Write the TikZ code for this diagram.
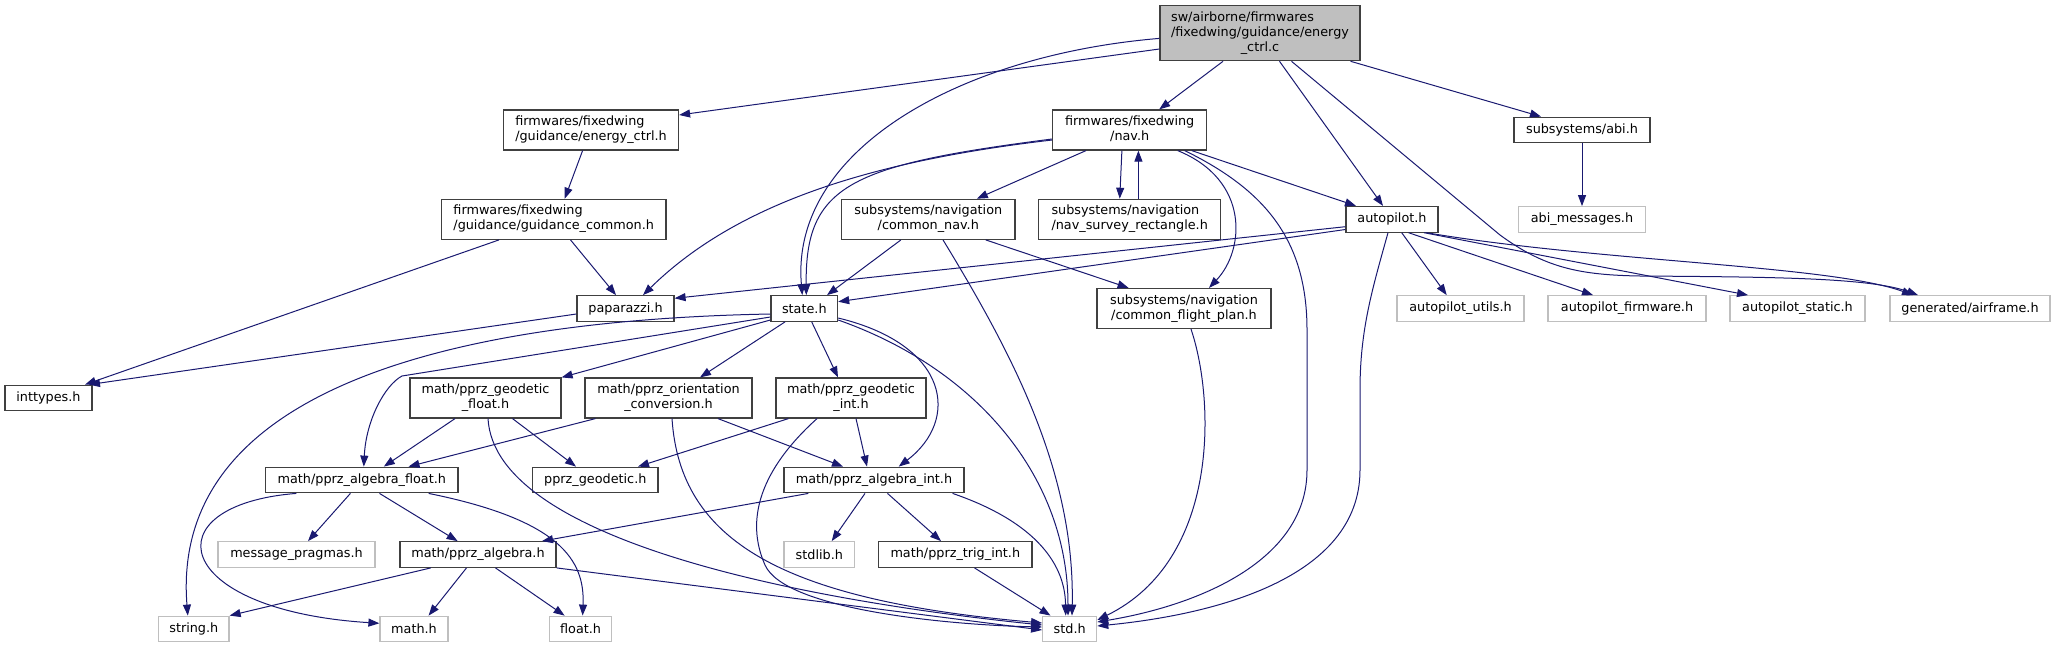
\documentclass[tikz,border=0pt]{standalone}
\usepackage{fontspec}
\setmainfont{DejaVu Sans}
\usetikzlibrary{arrows.meta}

\definecolor{edgeblue}{HTML}{191970}
\definecolor{boxgray}{HTML}{404040}
\definecolor{extgray}{HTML}{BFBFBF}

% two-line doxygen label: first line left, last line centred
\newcommand{\pathlbl}[2]{\begin{tabular}{@{}l@{}}#1\\\multicolumn{1}{@{}c@{}}{#2}\end{tabular}}

\begin{document}
\begin{tikzpicture}[
      x=0.5pt, y=-0.5pt,
      hdr/.style={
        rectangle, draw=boxgray, line width=0.6pt, fill=white,
        font=\fontsize{6.4}{7.5}\selectfont,
        inner xsep=2pt, inner ysep=1pt, minimum height=12.8pt
      },
      ext/.style={hdr, draw=extgray},
      two/.style={minimum height=20pt},
      inc/.style={
        -{Triangle[length=5.5pt,width=4pt]}, line width=0.5pt, draw=edgeblue
      }
    ]
    \useasboundingbox (0,0) rectangle (2055,648);

    % --- Source file ---
    \node[hdr, fill=extgray, minimum width=100pt, minimum height=27.5pt] (ec) at (1260,33.2)
      {\begin{tabular}{@{}l@{}}sw/airborne/firmwares\\/fixedwing/guidance/energy\\\multicolumn{1}{@{}c@{}}{\_ctrl.c}\end{tabular}};

    % --- Row 1 ---
    \node[hdr, two, minimum width=87.5pt] (ech) at (591,130)    {\pathlbl{firmwares/fixedwing}{/guidance/energy\_ctrl.h}};
    \node[hdr, two, minimum width=77pt]   (nav) at (1129.7,130) {\pathlbl{firmwares/fixedwing}{/nav.h}};
    \node[hdr, minimum width=68pt]        (abi) at (1582,130)   {subsystems/abi.h};

    % --- Row 2 ---
    \node[hdr, two, minimum width=112.25pt] (gc)     at (553.7,219.3)  {\pathlbl{firmwares/fixedwing}{/guidance/guidance\_common.h}};
    \node[hdr, two, minimum width=86.75pt]  (cnav)   at (928.3,219.3)  {\pathlbl{subsystems/navigation}{/common\_nav.h}};
    \node[hdr, two, minimum width=90.85pt]  (survey) at (1129.7,219.3) {\pathlbl{subsystems/navigation}{/nav\_survey\_rectangle.h}};
    \node[hdr, minimum width=46pt]          (ap)     at (1392,219.3)   {autopilot.h};
    \node[ext, minimum width=63.2pt]        (abimsg) at (1582,219.5)   {abi\_messages.h};

    % --- Row 3 ---
    \node[hdr, minimum width=48.5pt]   (papa)     at (625.5,308.5)  {paparazzi.h};
    \node[hdr, minimum width=33.3pt]   (state)    at (804.3,308.5)  {state.h};
    \node[hdr, two, minimum width=87pt] (cfp)     at (1184,308.5)   {\pathlbl{subsystems/navigation}{/common\_flight\_plan.h}};
    \node[ext, minimum width=63.5pt]   (aputils)  at (1460.5,308.5) {autopilot\_utils.h};
    \node[ext, minimum width=79pt]     (apfw)     at (1627,308.5)   {autopilot\_firmware.h};
    \node[ext, minimum width=67.5pt]   (apstatic) at (1797.5,308.5) {autopilot\_static.h};
    \node[ext, minimum width=80pt]     (airframe) at (1970,308.5)   {generated/airframe.h};

    % --- Row 4 ---
    \node[hdr, minimum width=43.5pt]      (inttypes) at (48.5,398)  {inttypes.h};
    \node[hdr, two, minimum width=75.5pt] (geofloat) at (485.5,398) {\pathlbl{math/pprz\_geodetic}{\_float.h}};
    \node[hdr, two, minimum width=83.5pt] (orient)   at (668.5,398) {\pathlbl{math/pprz\_orientation}{\_conversion.h}};
    \node[hdr, two, minimum width=75pt]   (geoint)   at (851,398)   {\pathlbl{math/pprz\_geodetic}{\_int.h}};

    % --- Row 5 ---
    \node[hdr, minimum width=96.2pt] (algfloat) at (361.8,480) {math/pprz\_algebra\_float.h};
    \node[hdr, minimum width=62.7pt] (geodetic) at (595.3,480) {pprz\_geodetic.h};
    \node[hdr, minimum width=90pt]   (algint)   at (874,480)   {math/pprz\_algebra\_int.h};

    % --- Row 6 ---
    \node[ext, minimum width=78.5pt]  (msgpr)  at (296.5,554.5) {message\_pragmas.h};
    \node[hdr, minimum width=78pt]    (alg)    at (478,554.5)   {math/pprz\_algebra.h};
    \node[ext, minimum width=35.25pt] (stdlib) at (819.3,554.5) {stdlib.h};
    \node[hdr, minimum width=76.7pt]  (trig)   at (955.3,554.5) {math/pprz\_trig\_int.h};

    % --- Row 7 ---
    \node[ext, minimum width=35.25pt] (string) at (193.8,629)  {string.h};
    \node[ext, minimum width=34pt]    (math)   at (414,629)    {math.h};
    \node[ext, minimum width=31pt]    (float)  at (580.6,629)  {float.h};
    \node[ext, minimum width=27pt]    (std)    at (1069.7,629) {std.h};

    % --- Includes of the source file ---
    \draw[inc] ([yshift=-7.9pt]ec.west) -- ([yshift=7.5pt]ech.east);
    \draw[inc] ([yshift=-2.6pt]ec.west) .. controls (960,55) and (790,150) .. ([xshift=-1pt]state.north);
    \draw[inc] ([xshift=-18.5pt]ec.south) -- ([xshift=14.75pt]nav.north);
    \draw[inc] ([xshift=9.75pt]ec.south) -- ([xshift=-4.5pt]ap.north);
    \draw[inc] ([xshift=15.75pt]ec.south) -- (1500,235) .. controls (1545,268) and (1580,275) .. (1640,276)
      .. controls (1780,277) and (1870,278) .. ([xshift=-26pt]airframe.north);
    \draw[inc] ([xshift=-5pt]ec.south east) -- ([xshift=-20.5pt]abi.north);

    % --- Guidance ---
    \draw[inc] ([xshift=-4.2pt]ech.south) -- ([xshift=5.5pt]gc.north);
    \draw[inc] ([xshift=-27.35pt]gc.south) -- ([xshift=18.25pt]inttypes.north);
    \draw[inc] ([xshift=8.4pt]gc.south) -- ([xshift=-4.75pt]papa.north);
    \draw[inc] ([yshift=-2.75pt]papa.west) -- ([xshift=20.25pt]inttypes.north);

    % --- nav.h ---
    \draw[inc] ([xshift=-21.85pt]nav.south) -- ([xshift=24.25pt]cnav.north);
    \draw[inc] ([xshift=-3.9pt]nav.south) -- ([xshift=-5pt]survey.north);
    \draw[inc] ([xshift=4.35pt]survey.north) -- ([xshift=4.35pt]nav.south);
    \draw[inc] ([xshift=31pt]nav.south) -- ([xshift=-18pt]ap.north);
    \draw[inc] ([yshift=-5pt]nav.west) .. controls (880,160) and (740,200) .. ([xshift=8.75pt]papa.north);
    \draw[inc] ([yshift=-4.5pt]nav.west) .. controls (850,165) and (805,185) .. ([xshift=1pt]state.north);
    \draw[inc] ([xshift=24pt]nav.south) .. controls (1250,180) and (1245,250) .. ([xshift=12.5pt]cfp.north);
    \draw[inc] ([xshift=27.5pt]nav.south) .. controls (1265,190) and (1307,240) .. (1307,330) -- (1307,470)
      .. controls (1307,560) and (1200,605) .. ([yshift=3.5pt]std.east);

    % --- common_nav.h ---
    \draw[inc] ([xshift=-13.7pt]cnav.south) -- ([xshift=11.35pt]state.north);
    \draw[inc] ([xshift=7.35pt]cnav.south) .. controls (1010,350) and (1075,470) .. ([xshift=1.15pt]std.north);
    \draw[inc] ([xshift=28.7pt]cnav.south) -- ([xshift=-27.7pt]cfp.north);

    % --- autopilot.h ---
    \draw[inc] ([yshift=-3.7pt]ap.west) -- ([yshift=5.1pt]papa.east);
    \draw[inc] ([yshift=-5.1pt]ap.west) -- ([yshift=3.4pt]state.east);
    \draw[inc] ([xshift=-2pt]ap.south) .. controls (1372,290) and (1360,330) .. (1360,390) -- (1360,470)
      .. controls (1360,580) and (1210,615) .. ([yshift=1.5pt]std.east);
    \draw[inc] ([xshift=4.85pt]ap.south) -- ([xshift=-6.9pt]aputils.north);
    \draw[inc] ([xshift=8.25pt]ap.south) -- ([xshift=-17pt]apfw.north);
    \draw[inc] ([xshift=16pt]ap.south) -- ([xshift=-24.75pt]apstatic.north);
    \draw[inc] ([xshift=17.2pt]ap.south) .. controls (1600,262) and (1830,265) .. ([xshift=-28.5pt]airframe.north);

    \draw[inc] (abi) -- (abimsg);
    \draw[inc] ([xshift=3.5pt]cfp.south) .. controls (1215,400) and (1220,560) .. ([yshift=4.5pt]std.east);

    % --- state.h ---
    \draw[inc] ([yshift=-5.75pt]state.west) -- (geofloat.north east);
    \draw[inc] ([xshift=-9.65pt]state.south) -- ([xshift=15.75pt]orient.north);
    \draw[inc] ([xshift=3.7pt]state.south) -- ([xshift=-6.5pt]geoint.north);
    \draw[inc] ([yshift=-4.75pt]state.east) .. controls (950,345) and (960,420) .. ([xshift=12.35pt]algint.north);
    \draw[inc] ([yshift=-5.75pt]state.east) .. controls (980,370) and (1068,480) .. ([xshift=-0.85pt]std.north);
    \draw[inc] ([yshift=-4.25pt]state.west) -- (402,376) .. controls (385,385) and (366,420) .. ([xshift=1pt]algfloat.north);
    \draw[inc] ([yshift=-2.75pt]state.west) .. controls (450,320) and (170,390) .. ([xshift=-3pt]string.north);

    % --- Geodetic / orientation ---
    \draw[inc] ([xshift=-15.25pt]geofloat.south) -- ([xshift=11pt]algfloat.north);
    \draw[inc] ([xshift=13.5pt]geofloat.south) -- ([xshift=-9.65pt]geodetic.north);
    \draw[inc] ([xshift=1.25pt]geofloat.south) .. controls (495,540) and (800,600) .. ([yshift=2pt]std.west);
    \draw[inc] ([xshift=5.5pt]orient.south west) -- ([xshift=23.35pt]algfloat.north);
    \draw[inc] ([xshift=24.75pt]orient.south) -- ([xshift=-15.5pt]algint.north);
    \draw[inc] ([xshift=1.75pt]orient.south) .. controls (680,540) and (780,600) .. ([yshift=3pt]std.west);
    \draw[inc] ([xshift=6.5pt]geoint.south west) -- ([xshift=21.35pt]geodetic.north);
    \draw[inc] ([xshift=2.5pt]geoint.south) -- ([xshift=-3.5pt]algint.north);
    \draw[inc] ([xshift=-17pt]geoint.south) .. controls (760,470) and (745,520) .. (765,565)
      .. controls (785,610) and (950,625) .. ([yshift=1pt]std.west);

    % --- Algebra ---
    \draw[inc] ([xshift=-5.7pt]algfloat.south) -- ([xshift=5.75pt]msgpr.north);
    \draw[inc] ([xshift=8.85pt]algfloat.south) -- ([xshift=-10.2pt]alg.north);
    \draw[inc] ([xshift=15.7pt]algfloat.south west) .. controls (150,505) and (170,610) .. ([yshift=2.85pt]math.west);
    \draw[inc] ([xshift=33.4pt]algfloat.south) .. controls (560,520) and (585,560) .. ([xshift=1pt]float.north);
    \draw[inc] ([xshift=-23.6pt]alg.south) -- (string.north east);
    \draw[inc] ([xshift=-5.75pt]alg.south) -- ([xshift=7.3pt]math.north);
    \draw[inc] ([xshift=8.75pt]alg.south) -- ([xshift=-8pt]float.north);
    \draw[inc] (alg.south east) -- ([yshift=-0.5pt]std.west);
    \draw[inc] ([xshift=12.5pt]algint.south west) -- ([xshift=32pt]alg.north);
    \draw[inc] ([xshift=-4.5pt]algint.south) -- ([xshift=6.2pt]stdlib.north);
    \draw[inc] ([xshift=6.75pt]algint.south) -- ([xshift=-7.15pt]trig.north);
    \draw[inc] ([xshift=-6pt]algint.south east) .. controls (1030,520) and (1065,560) .. ([xshift=-2pt]std.north);
    \draw[inc] ([xshift=9.6pt]trig.south) -- ([xshift=-9.6pt]std.north);

  \end{tikzpicture}
\end{document}
